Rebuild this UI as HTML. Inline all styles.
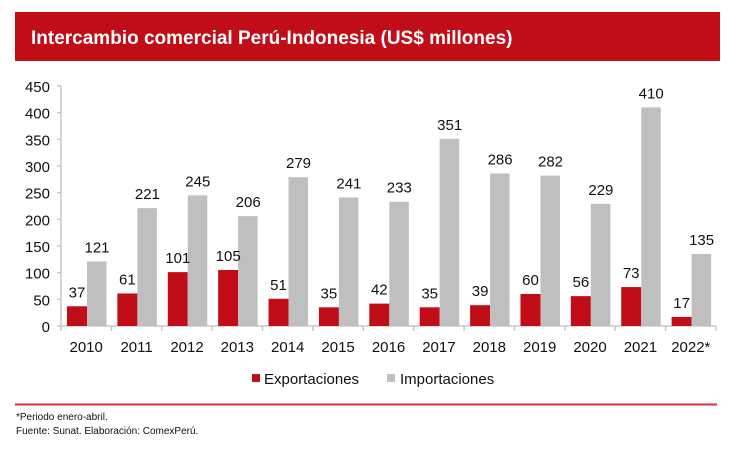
<!DOCTYPE html>
<html><head><meta charset="utf-8"><style>
body{margin:0;background:#fff;}
svg{display:block;font-family:"Liberation Sans",Arial,sans-serif;}
</style></head><body>
<svg width="737" height="449" viewBox="0 0 737 449" xmlns="http://www.w3.org/2000/svg">
<rect x="15" y="12" width="705" height="49" fill="#c00d18"/>
<text x="31" y="44" font-size="19" font-weight="bold" fill="#fff">Intercambio comercial Perú-Indonesia (US$ millones)</text>
<g stroke="#c8c8c8" stroke-width="1.5">
<line x1="61" y1="86" x2="61" y2="326"/>
<line x1="61" y1="326" x2="716" y2="326"/>
<line x1="57" x2="61" y1="326" y2="326"/><line x1="57" x2="61" y1="299.33" y2="299.33"/><line x1="57" x2="61" y1="272.67" y2="272.67"/><line x1="57" x2="61" y1="246" y2="246"/><line x1="57" x2="61" y1="219.33" y2="219.33"/><line x1="57" x2="61" y1="192.67" y2="192.67"/><line x1="57" x2="61" y1="166" y2="166"/><line x1="57" x2="61" y1="139.33" y2="139.33"/><line x1="57" x2="61" y1="112.67" y2="112.67"/><line x1="57" x2="61" y1="86" y2="86"/>
<line x1="61" x2="61" y1="326" y2="331"/><line x1="111.38" x2="111.38" y1="326" y2="331"/><line x1="161.77" x2="161.77" y1="326" y2="331"/><line x1="212.15" x2="212.15" y1="326" y2="331"/><line x1="262.54" x2="262.54" y1="326" y2="331"/><line x1="312.92" x2="312.92" y1="326" y2="331"/><line x1="363.31" x2="363.31" y1="326" y2="331"/><line x1="413.69" x2="413.69" y1="326" y2="331"/><line x1="464.08" x2="464.08" y1="326" y2="331"/><line x1="514.46" x2="514.46" y1="326" y2="331"/><line x1="564.85" x2="564.85" y1="326" y2="331"/><line x1="615.23" x2="615.23" y1="326" y2="331"/><line x1="665.62" x2="665.62" y1="326" y2="331"/><line x1="716" x2="716" y1="326" y2="331"/>
</g>
<g font-size="15" text-anchor="end" fill="#111">
<text x="50" y="332">0</text><text x="50" y="305.3">50</text><text x="50" y="278.7">100</text><text x="50" y="252">150</text><text x="50" y="225.3">200</text><text x="50" y="198.7">250</text><text x="50" y="172">300</text><text x="50" y="145.3">350</text><text x="50" y="118.7">400</text><text x="50" y="92">450</text>
</g>
<g fill="#c00d18">
<rect x="67" y="306.27" width="20" height="19.73"/>
<rect x="117.38" y="293.47" width="20" height="32.53"/>
<rect x="167.77" y="272.13" width="20" height="53.87"/>
<rect x="218.15" y="270" width="20" height="56"/>
<rect x="268.54" y="298.8" width="20" height="27.2"/>
<rect x="318.92" y="307.33" width="20" height="18.67"/>
<rect x="369.31" y="303.6" width="20" height="22.4"/>
<rect x="419.69" y="307.33" width="20" height="18.67"/>
<rect x="470.08" y="305.2" width="20" height="20.8"/>
<rect x="520.46" y="294" width="20" height="32"/>
<rect x="570.85" y="296.13" width="20" height="29.87"/>
<rect x="621.23" y="287.07" width="20" height="38.93"/>
<rect x="671.62" y="316.93" width="20" height="9.07"/>
</g>
<g fill="#bfbfbf">
<rect x="87" y="261.47" width="19.5" height="64.53"/>
<rect x="137.38" y="208.13" width="19.5" height="117.87"/>
<rect x="187.77" y="195.33" width="19.5" height="130.67"/>
<rect x="238.15" y="216.13" width="19.5" height="109.87"/>
<rect x="288.54" y="177.2" width="19.5" height="148.8"/>
<rect x="338.92" y="197.47" width="19.5" height="128.53"/>
<rect x="389.31" y="201.73" width="19.5" height="124.27"/>
<rect x="439.69" y="138.8" width="19.5" height="187.2"/>
<rect x="490.08" y="173.47" width="19.5" height="152.53"/>
<rect x="540.46" y="175.6" width="19.5" height="150.4"/>
<rect x="590.85" y="203.87" width="19.5" height="122.13"/>
<rect x="641.23" y="107.33" width="19.5" height="218.67"/>
<rect x="691.62" y="254" width="19.5" height="72"/>
</g>
<g font-size="15" text-anchor="middle" fill="#111">
<text x="77" y="297.3">37</text><text x="97" y="252.5">121</text>
<text x="127.4" y="284.5">61</text><text x="147.4" y="199.1">221</text>
<text x="177.8" y="263.1">101</text><text x="197.8" y="186.3">245</text>
<text x="228.2" y="261">105</text><text x="248.2" y="207.1">206</text>
<text x="278.5" y="289.8">51</text><text x="298.5" y="168.2">279</text>
<text x="328.9" y="298.3">35</text><text x="348.9" y="188.5">241</text>
<text x="379.3" y="294.6">42</text><text x="399.3" y="192.7">233</text>
<text x="429.7" y="298.3">35</text><text x="449.7" y="129.8">351</text>
<text x="480.1" y="296.2">39</text><text x="500.1" y="164.5">286</text>
<text x="530.5" y="285">60</text><text x="550.5" y="166.6">282</text>
<text x="580.9" y="287.1">56</text><text x="600.9" y="194.9">229</text>
<text x="631.2" y="278.1">73</text><text x="651.2" y="98.3">410</text>
<text x="681.6" y="307.9">17</text><text x="701.6" y="245">135</text>
<text x="86.2" y="352">2010</text><text x="136.6" y="352">2011</text><text x="187" y="352">2012</text><text x="237.3" y="352">2013</text><text x="287.7" y="352">2014</text><text x="338.1" y="352">2015</text><text x="388.5" y="352">2016</text><text x="438.9" y="352">2017</text><text x="489.3" y="352">2018</text><text x="539.7" y="352">2019</text><text x="590" y="352">2020</text><text x="640.4" y="352">2021</text><text x="690.8" y="352">2022*</text>
</g>
<line x1="15" y1="404.5" x2="717" y2="404.5" stroke="#d0303a" stroke-width="2"/>
<rect x="252" y="374" width="8" height="8" fill="#c00d18"/>
<text x="264" y="384" font-size="15" fill="#111">Exportaciones</text>
<rect x="387" y="374" width="8" height="8" fill="#bfbfbf"/>
<text x="400" y="384" font-size="15" fill="#111">Importaciones</text>
<text x="16" y="420" font-size="10" fill="#111">*Periodo enero-abril.</text>
<text x="16" y="434" font-size="10" fill="#111">Fuente: Sunat. Elaboración: ComexPerú.</text>
</svg>
</body></html>
